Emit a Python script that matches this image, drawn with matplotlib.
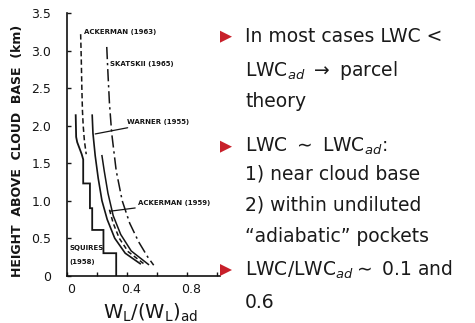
import matplotlib
matplotlib.use("Agg")
import matplotlib.pyplot as plt
import matplotlib.transforms as mtransforms
from matplotlib.patches import Polygon

# ---- data ----
squires_x = [0.33, 0.33, 0.245, 0.245, 0.17, 0.17, 0.155, 0.155, 0.11, 0.11, 0.10, 0.085, 0.07, 0.063, 0.06]
squires_y = [0.0, 0.30, 0.30, 0.61, 0.61, 0.90, 0.90, 1.23, 1.23, 1.55, 1.62, 1.70, 1.78, 1.85, 2.14]

ack63_x = [0.093, 0.097, 0.101, 0.105, 0.110, 0.118, 0.130]
ack63_y = [3.22, 2.90, 2.50, 2.20, 2.00, 1.80, 1.62]

skat_x = [0.267, 0.275, 0.285, 0.300, 0.330, 0.370, 0.420, 0.480, 0.540, 0.580]
skat_y = [3.05, 2.70, 2.30, 1.90, 1.40, 1.00, 0.70, 0.45, 0.25, 0.14]

warner_x = [0.170, 0.175, 0.190, 0.210, 0.235, 0.270, 0.320, 0.390, 0.490]
warner_y = [2.14, 1.90, 1.60, 1.30, 1.00, 0.75, 0.50, 0.30, 0.16]

solid2_x = [0.235, 0.250, 0.275, 0.310, 0.360, 0.430, 0.545]
solid2_y = [1.60, 1.40, 1.10, 0.80, 0.55, 0.33, 0.15]

ack59_x = [0.285, 0.310, 0.350, 0.410, 0.520]
ack59_y = [0.88, 0.70, 0.50, 0.32, 0.15]

x_ticks = [0.0, 0.2, 0.4, 0.6, 0.8, 1.0]
x_ticklabels = ["0", "", "0.4", "", "0.8", ""]
y_ticks = [0.0, 0.5, 1.0, 1.5, 2.0, 2.5, 3.0, 3.5]
y_ticklabels = ["0", "0.5", "1.0", "1.5", "2.0", "2.5", "3.0", "3.5"]

bullets = [
    ["In most cases LWC <", r"LWC$_{ad}$ $\rightarrow$ parcel", "theory"],
    [r"LWC $\sim$ LWC$_{ad}$:", "1) near cloud base", "2) within undiluted", "\u201cadiabatic\u201d pockets"],
    [r"LWC/LWC$_{ad}$$\sim$ 0.1 and", "0.6"],
]

# ---- figure ----
W, H = 475, 323
fig = plt.figure(figsize=(W / 100, H / 100), dpi=100)
plt.rcParams['mathtext.fontset'] = 'dejavusans'

ax = fig.add_axes([66.7 / W, (H - 275.7) / H, 1.02 * 150 / W, 262.5 / H])
ax.set_xlim(0, 1.02)
ax.set_ylim(0, 3.5)
for s in ["top", "right"]:
    ax.spines[s].set_visible(False)
for s in ["left", "bottom"]:
    ax.spines[s].set_linewidth(1.2)
    ax.spines[s].set_color("#111111")

ink = "#151515"
ax.plot(squires_x, squires_y, color=ink, lw=1.3, solid_joinstyle="miter")
ax.plot(ack63_x, ack63_y, color=ink, lw=1.1, dashes=(3.5, 2))
ax.plot(skat_x, skat_y, color=ink, lw=1.1, dashes=(8, 2.5, 1.5, 2.5))
ax.plot(warner_x, warner_y, color=ink, lw=1.2)
ax.plot(solid2_x, solid2_y, color=ink, lw=1.1)
ax.plot(ack59_x, ack59_y, color=ink, lw=1.1, dashes=(3, 2))

ax.set_xticks(x_ticks)
ax.set_xticklabels(x_ticklabels)
ax.set_yticks(y_ticks)
ax.set_yticklabels(y_ticklabels)
ax.tick_params(direction="in", length=3, width=1, colors=ink, labelsize=9, pad=5)
ax.tick_params(axis="y", pad=11)
offset = mtransforms.ScaledTranslation(3 / 72, 0, fig.dpi_scale_trans)
for lab in ax.get_xticklabels():
    lab.set_transform(lab.get_transform() + offset)

ax.set_ylabel("HEIGHT  ABOVE  CLOUD  BASE  (km)", fontsize=9, fontweight="bold",
              color=ink)
ax.yaxis.set_label_coords(-0.28, 0.475)
ax.set_xlabel(r"$\mathregular{W_L/(W_L)_{ad}}$", fontsize=14, color=ink)
ax.xaxis.set_label_coords(0.55, -0.1)

lab_kw = dict(fontsize=5, fontweight="bold", color=ink)
ax.text(0.115, 3.25, "ACKERMAN (1963)", va="center", ha="left", **lab_kw)
ax.text(0.29, 2.82, "SKATSKII (1965)", va="center", ha="left", **lab_kw)
ax.annotate("WARNER (1955)", xy=(0.19, 1.89), xytext=(0.40, 2.05), va="center", ha="left",
            arrowprops=dict(arrowstyle="-", color=ink, lw=0.9, shrinkA=0, shrinkB=0), **lab_kw)
ax.annotate("ACKERMAN (1959)", xy=(0.29, 0.86), xytext=(0.475, 0.97), va="center", ha="left",
            arrowprops=dict(arrowstyle="-", color=ink, lw=0.9, shrinkA=0, shrinkB=0), **lab_kw)
ax.text(0.02, 0.37, "SQUIRES", va="center", ha="left", **lab_kw)
ax.text(0.02, 0.18, "(1958)", va="center", ha="left", **lab_kw)

# ---- bullet text ----
rows = [[36.7, 70, 101], [146.7, 174, 205, 237], [270, 303]]
for lines, ys in zip(bullets, rows):
    ty = ys[0]
    tri = Polygon([[220 / W, 1 - (ty - 6) / H], [220 / W, 1 - (ty + 6) / H], [232 / W, 1 - ty / H]],
                  closed=True, transform=fig.transFigure, color="#c8202a", lw=0)
    fig.patches.append(tri)
    for line, yy in zip(lines, ys):
        fig.text(245 / W, 1 - yy / H, line, fontsize=13.5, va="center", ha="left",
                 color="#1a1a1a", family="DejaVu Sans")

fig.savefig("out.png", dpi=100)
